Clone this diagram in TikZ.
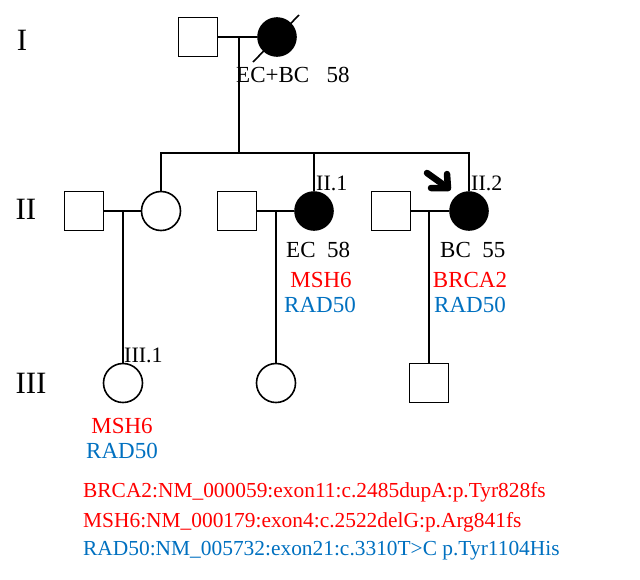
\documentclass[tikz,border=0pt]{standalone}
\usepackage{fontspec}
\setmainfont{Liberation Serif}
\usetikzlibrary{arrows.meta}
\definecolor{mred}{HTML}{FF0000}
\definecolor{mblue}{HTML}{0070C0}
\begin{document}
\begin{tikzpicture}[x=1pt,y=-1pt,
  male/.style={draw,line width=1.6pt,minimum size=39pt,inner sep=0pt,rectangle},
  female/.style={draw,line width=1.6pt,minimum size=39pt,inner sep=0pt,circle},
  affected/.style={female,fill=black,minimum size=38pt},
  conn/.style={line width=1.2pt},
  txt/.style={inner sep=0pt,font=\fontsize{23}{27}\selectfont},
  lbl/.style={inner sep=0pt,font=\fontsize{22}{26}\selectfont},
  gen/.style={inner sep=0pt,font=\fontsize{31}{36}\selectfont},
  redt/.style={txt,text=mred},
  bluet/.style={txt,text=mblue},
  vart/.style={inner sep=0pt,anchor=west,font=\fontsize{21.4}{25}\selectfont},
  arrowln/.style={line width=6.5pt,line cap=round,line join=round}]
\useasboundingbox (0,0) rectangle (640,579);
% generation labels
\node[gen] (gI) at (22,40) {I};
\node[gen] (gII) at (26,209) {II};
\node[gen] (gIII) at (31,383) {III};
% generation I
\node[male] (I1) at (198,37) {};
\node[affected] (I2) at (277,37) {};
\draw[line width=1.6pt] ([shift={(-24,25)}]I2.center) -- ([shift={(22,-22)}]I2.center);
\coordinate (m1) at (239,37);
\coordinate (sib) at (239,153);
% generation II
\node[male] (II1) at (84,211) {};
\node[female] (II2) at (161,211) {};
\node[male] (II3) at (237,211) {};
\node[affected] (II4) at (314,211) {};
\node[male] (II5) at (391,211) {};
\node[affected] (II6) at (469,211) {};
\coordinate (m2) at (123,211);
\coordinate (m3) at (276,211);
\coordinate (m4) at (429,211);
% generation III
\node[female] (III1) at (123,383) {};
\node[female] (III2) at (276,383) {};
\node[male] (III3) at (429,383) {};
% connectors
\draw[conn] (I1) -- (I2);
\draw[conn] (m1) -- (sib);
\draw[conn] (II2.north) -- (II2.north |- sib) -- (II6.north |- sib) -- (II6.north);
\draw[conn] (II4.north |- sib) -- (II4.north);
\draw[conn] (II1) -- (II2);
\draw[conn] (II3) -- (II4);
\draw[conn] (II5) -- (II6);
\draw[conn] (m2) -- (III1.north);
\draw[conn] (m3) -- (III2.north);
\draw[conn] (m4) -- (III3.north);
% proband arrow
\coordinate (arS) at (427,173);
\coordinate (arE) at (448,188);
\coordinate (arA) at (447,174);
\coordinate (arB) at (431,188);
\draw[arrowln] (arS) -- (arE);
\draw[arrowln] (arA) -- (arE) -- (arB);
% texts
\node[txt,anchor=west] (tI2) at (236,75) {EC+BC~~~58};
\node[lbl,anchor=west] (l21) at (316,183) {II.1};
\node[lbl,anchor=west] (l22) at (471,183) {II.2};
\node[txt,anchor=west] (tII4) at (286,250) {EC~~58};
\node[redt] (rII4) at (321,280) {MSH6};
\node[bluet] (bII4) at (320,305) {RAD50};
\node[txt,anchor=west] (tII6) at (440,250) {BC~~55};
\node[redt] (rII6) at (470,280) {BRCA2};
\node[bluet] (bII6) at (470,305) {RAD50};
\node[lbl,anchor=west] (l31) at (124,355) {III.1};
\node[redt] (rIII1) at (122,426) {MSH6};
\node[bluet] (bIII1) at (122,451) {RAD50};
\node[vart,text=mred] (v1) at (83,492) {BRCA2:NM\_000059:exon11:c.2485dupA:p.Tyr828fs};
\node[vart,text=mred] (v2) at (83,522) {MSH6:NM\_000179:exon4:c.2522delG:p.Arg841fs};
\node[vart,text=mblue] (v3) at (83,551) {RAD50:NM\_005732:exon21:c.3310T>C p.Tyr1104His};
\end{tikzpicture}
\end{document}
